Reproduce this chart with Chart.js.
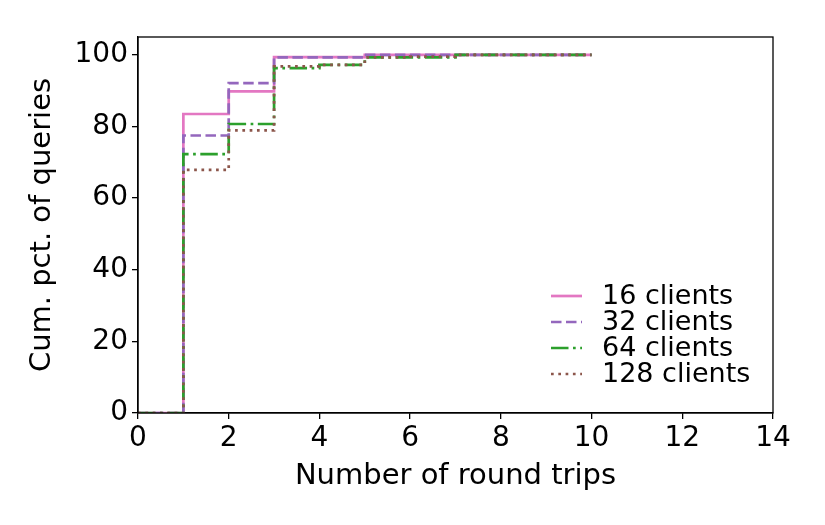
<!DOCTYPE html>
<html>
<head>
<meta charset="utf-8">
<script src="https://cdn.jsdelivr.net/npm/chart.js@4"></script>
<style>
  html, body { margin: 0; padding: 0; background: #fff; }
  #wrap { width: 825px; height: 525px; }
</style>
</head>
<body>
<div id="wrap"><canvas id="chart" width="825" height="525"></canvas></div>
<script>
// round trips (x) and cumulative percentages per client count
const roundTrips = [0, 1, 2, 3, 4, 5, 6, 7, 8, 9, 10];
const clients16 = [0, 83.5, 89.8, 99.4, 99.4, 100, 100, 100, 100, 100, 100];
const clients32 = [0, 77.5, 92.1, 99.3, 99.3, 100, 100, 100, 100, 100, 100];
const clients64 = [0, 72.3, 80.7, 96.3, 97.2, 99.3, 99.3, 100, 100, 100, 100];
const clients128 = [0, 67.9, 78.9, 96.8, 97.2, 99.3, 99.5, 100, 100, 100, 100];
const seriesLabels = ["16 clients", "32 clients", "64 clients", "128 clients"];
const xTicks = [0, 2, 4, 6, 8, 10, 12, 14];
const yTicks = [0, 20, 40, 60, 80, 100];

const FONT = "'DejaVu Sans', sans-serif";
const LW = 2.7;

function pts(ys) {
    return roundTrips.map((x, i) => ({ x: x, y: ys[i] }));
}

const styles = [
    { color: "#e377c2", dash: [] },
    { color: "#9467bd", dash: [10.5, 4.5] },
    { color: "#2ca02c", dash: [17.5, 4.5, 2.7, 4.5] },
    { color: "#8c564b", dash: [2.7, 4.6] }
];

const allSeries = [clients16, clients32, clients64, clients128];
let datasets = allSeries.map((s, i) => ({
    label: seriesLabels[i],
    data: pts(s),
    borderColor: styles[i].color,
    borderDash: styles[i].dash,
    borderWidth: LW,
    stepped: "before",
    pointRadius: 0,
    fill: false,
    order: allSeries.length - 1 - i   // later series drawn on top
}));

// box around plot + legend inside the axes
const framePlugin = {
    id: "frame",
    afterDraw(chart) {
        const ctx = chart.ctx;
        const a = chart.chartArea;
        ctx.save();
        ctx.strokeStyle = "#000";
        ctx.lineWidth = 1.3;
        ctx.strokeRect(a.left, a.top, a.right - a.left, a.bottom - a.top);

        ctx.font = "27px " + FONT;
        ctx.textBaseline = "middle";
        ctx.textAlign = "left";
        chart.data.datasets.forEach((ds, i) => {
            const y = 296 + i * 26;
            ctx.beginPath();
            ctx.strokeStyle = ds.borderColor;
            ctx.lineWidth = LW;
            ctx.setLineDash(ds.borderDash);
            ctx.moveTo(551, y);
            ctx.lineTo(582, y);
            ctx.stroke();
            ctx.setLineDash([]);
            ctx.fillStyle = "#000";
            ctx.fillText(ds.label, 602, y + 1);
        });
        ctx.restore();
    }
};

new Chart(document.getElementById("chart"), {
    type: "line",
    data: { datasets: datasets },
    options: {
        responsive: false,
        animation: false,
        layout: { padding: { left: 25, right: 52, top: 37, bottom: 31 } },
        plugins: { legend: { display: false }, tooltip: { enabled: false } },
        scales: {
            x: {
                type: "linear",
                min: 0,
                max: 14,
                afterBuildTicks: (scale) => { scale.ticks = xTicks.map(v => ({ value: v })); },
                afterFit: (scale) => { scale.height = 81; },
                grid: { drawOnChartArea: false, drawTicks: true, tickLength: 6, color: "#000", lineWidth: 1.3 },
                border: { display: true, color: "#000", width: 1.3 },
                ticks: { color: "#000", font: { family: FONT, size: 28 }, padding: 3, maxRotation: 0 },
                title: { display: true, text: "Number of round trips", color: "#000", font: { family: FONT, size: 29 }, padding: 0 }
            },
            y: {
                min: 0,
                max: 105,
                afterBuildTicks: (scale) => { scale.ticks = yTicks.map(v => ({ value: v })); },
                afterFit: (scale) => { scale.width = 113; },
                grid: { drawOnChartArea: false, drawTicks: true, tickLength: 6, color: "#000", lineWidth: 1.3 },
                border: { display: true, color: "#000", width: 1.3 },
                ticks: { color: "#000", font: { family: FONT, size: 28 }, padding: 4 },
                title: { display: true, text: "Cum. pct. of queries", color: "#000", font: { family: FONT, size: 29 }, padding: 0 }
            }
        }
    },
    plugins: [framePlugin]
});
</script>
</body>
</html>
